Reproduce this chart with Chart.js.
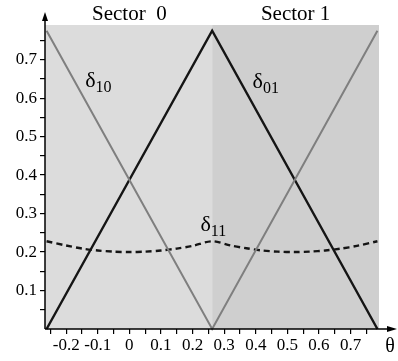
<!DOCTYPE html>
<html>
<head>
    <title>Sector chart</title>
    <script src="https://cdn.jsdelivr.net/npm/chart.js"></script>
    <style>
        body { margin: 0; background: #fff; }
    </style>
</head>
<body>
    <canvas id="sectorChart" width="398" height="361"></canvas>

    <script>
        // values
        const thetaEdges = [-0.262, 0.262, 0.785];
        const delta10 = [0.775, 0, 0.775];
        const delta01 = [0, 0.775, 0];

        const thetaD11 = [-0.262, -0.2, -0.15, -0.1, -0.05, 0, 0.05, 0.1, 0.15, 0.2, 0.262,
                          0.32, 0.37, 0.42, 0.47, 0.524, 0.57, 0.62, 0.67, 0.72, 0.785];
        const delta11 = [0.228, 0.217, 0.209, 0.204, 0.201, 0.200, 0.201, 0.204, 0.209, 0.216, 0.228,
                         0.217, 0.210, 0.204, 0.201, 0.200, 0.201, 0.204, 0.209, 0.216, 0.228];

        const sectorNames = ['Sector  0', 'Sector 1'];
        const sectorBounds = [-0.267, 0.262, 0.79];

        const xMajor = [-0.2, -0.1, 0, 0.1, 0.2, 0.3, 0.4, 0.5, 0.6, 0.7];
        const xMajorLabels = ['-0.2', '-0.1', '0', '0.1', '0.2', '0.3', '0.4', '0.5', '0.6', '0.7'];
        const xMinor = [-0.25, -0.15, -0.05, 0.05, 0.15, 0.25, 0.35, 0.45, 0.55, 0.65, 0.75];
        const yMajor = [0.1, 0.2, 0.3, 0.4, 0.5, 0.6, 0.7];
        const yMajorLabels = ['0.1', '0.2', '0.3', '0.4', '0.5', '0.6', '0.7'];
        const yMinor = [0.05, 0.15, 0.25, 0.35, 0.45, 0.55, 0.65, 0.75];

        const toPoints = (xs, ys) => xs.map((x, i) => ({ x: x, y: ys[i] }));

        function labelFor(v, values, labels) {
            const i = values.findIndex(m => Math.abs(m - v) < 1e-6);
            return i >= 0 ? labels[i] : '';
        }

        const serif = '"Liberation Serif", "DejaVu Serif", serif';

        const decor = {
            id: 'decor',
            beforeDraw(chart) {
                const { ctx, chartArea, scales } = chart;
                const cols = ['#dcdcdc', '#cfcfcf'];
                ctx.save();
                for (let i = 0; i < 2; i++) {
                    const x1 = scales.x.getPixelForValue(sectorBounds[i]);
                    const x2 = scales.x.getPixelForValue(sectorBounds[i + 1]);
                    ctx.fillStyle = cols[i];
                    ctx.fillRect(x1, chartArea.top, x2 - x1, chartArea.bottom - chartArea.top);
                }
                ctx.restore();
            },
            afterDraw(chart) {
                const { ctx, chartArea, scales } = chart;
                const x0 = chartArea.left, y0 = chartArea.bottom;
                ctx.save();
                ctx.strokeStyle = '#000';
                ctx.fillStyle = '#000';
                ctx.lineWidth = 1.5;
                // axis lines with arrows
                ctx.beginPath();
                ctx.moveTo(x0, y0);
                ctx.lineTo(x0, 16);
                ctx.moveTo(x0, y0);
                ctx.lineTo(392, y0);
                ctx.stroke();
                ctx.beginPath();
                ctx.moveTo(x0, 12);
                ctx.lineTo(x0 - 3, 21);
                ctx.lineTo(x0 + 3, 21);
                ctx.closePath();
                ctx.fill();
                ctx.beginPath();
                ctx.moveTo(397, y0);
                ctx.lineTo(387, y0 - 3);
                ctx.lineTo(387, y0 + 3);
                ctx.closePath();
                ctx.fill();

                // sector titles
                ctx.font = '21px ' + serif;
                ctx.textAlign = 'center';
                ctx.textBaseline = 'middle';
                for (let i = 0; i < 2; i++) {
                    const xa = scales.x.getPixelForValue(Math.max(sectorBounds[i], -0.262));
                    const xb = scales.x.getPixelForValue(sectorBounds[i + 1]);
                    ctx.fillText(sectorNames[i], (xa + xb) / 2, 14);
                }

                // axis name
                ctx.font = '20px ' + serif;
                ctx.fillText('θ', 390, 347);

                // curve labels
                const deltaLabel = (sub, tx, ty) => {
                    const px = scales.x.getPixelForValue(tx);
                    const py = scales.y.getPixelForValue(ty);
                    ctx.textAlign = 'left';
                    ctx.textBaseline = 'alphabetic';
                    ctx.font = '22px ' + serif;
                    ctx.fillText('δ', px, py);
                    const w = ctx.measureText('δ').width;
                    ctx.font = '16px ' + serif;
                    ctx.fillText(sub, px + w, py + 5);
                };
                deltaLabel('10', -0.14, 0.63);
                deltaLabel('01', 0.39, 0.625);
                deltaLabel('11', 0.225, 0.255);
                ctx.restore();
            }
        };

        const ctx = document.getElementById('sectorChart').getContext('2d');
        const sectorChart = new Chart(ctx, {
            type: 'scatter',
            data: {
                datasets: [
                    {
                        data: toPoints(thetaEdges, delta10),
                        showLine: true,
                        borderColor: '#7f7f7f',
                        borderWidth: 2,
                        pointRadius: 0,
                        clip: 4
                    },
                    {
                        data: toPoints(thetaEdges, delta01),
                        showLine: true,
                        borderColor: '#151515',
                        borderWidth: 2.4,
                        pointRadius: 0,
                        clip: 4
                    },
                    {
                        data: toPoints(thetaD11, delta11),
                        showLine: true,
                        borderColor: '#151515',
                        borderWidth: 2.4,
                        borderDash: [6, 4],
                        pointRadius: 0,
                        tension: 0.3,
                        clip: 4
                    }
                ]
            },
            options: {
                responsive: false,
                animation: false,
                layout: { padding: { top: 25, right: 19, left: 0, bottom: 0 } },
                plugins: { legend: { display: false }, tooltip: { enabled: false } },
                scales: {
                    x: {
                        type: 'linear',
                        min: sectorBounds[0],
                        max: sectorBounds[2],
                        afterBuildTicks: s => {
                            s.ticks = xMajor.concat(xMinor).sort((a, b) => a - b).map(v => ({ value: v }));
                        },
                        afterFit: s => { s.height = 32; },
                        ticks: {
                            autoSkip: false,
                            maxRotation: 0,
                            padding: 1,
                            color: '#000',
                            font: { family: serif, size: 17 },
                            callback: v => labelFor(v, xMajor, xMajorLabels)
                        },
                        grid: { drawOnChartArea: false, drawTicks: true, tickLength: 5, color: '#000', lineWidth: 1.2 },
                        border: { display: false }
                    },
                    y: {
                        type: 'linear',
                        min: 0,
                        max: 0.79,
                        afterBuildTicks: s => {
                            s.ticks = yMajor.concat(yMinor).sort((a, b) => a - b).map(v => ({ value: v }));
                        },
                        afterFit: s => { s.width = 45; },
                        ticks: {
                            autoSkip: false,
                            padding: 3,
                            color: '#000',
                            font: { family: serif, size: 17 },
                            callback: v => labelFor(v, yMajor, yMajorLabels)
                        },
                        grid: { drawOnChartArea: false, drawTicks: true, tickLength: 5, color: '#000', lineWidth: 1.2 },
                        border: { display: false }
                    }
                }
            },
            plugins: [decor]
        });
    </script>
</body>
</html>
